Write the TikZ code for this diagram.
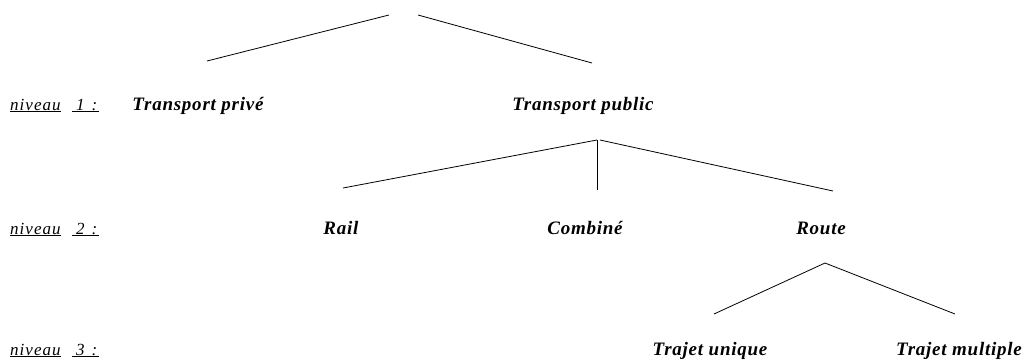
\documentclass[tikz,border=0pt]{standalone}
\usepackage{fontspec}
\setmainfont{Liberation Serif}
\newfontfamily\lblfont[LetterSpace=4]{Liberation Serif}
\newfontfamily\nivfont[LetterSpace=6]{Liberation Serif}
\begin{document}
\begin{tikzpicture}[x=1pt,y=-1pt,
  lbl/.style={anchor=base, inner sep=0pt, font=\lblfont\bfseries\itshape\fontsize{19}{21}\selectfont},
  niv/.style={anchor=base west, inner sep=0pt, font=\nivfont\itshape\fontsize{17}{19}\selectfont},
  edge/.style={line width=0.8pt}]
\useasboundingbox (0,0) rectangle (1036,362);
% labels
\node[lbl] (tpriv) at (198,110) {Transport privé};
\node[lbl] (tpub)  at (583,110) {Transport public};
\node[lbl] (rail)  at (341,234) {Rail};
\node[lbl] (comb)  at (585,234) {Combiné};
\node[lbl] (route) at (821,234) {Route};
\node[lbl] (tuni)  at (710,355) {Trajet unique};
\node[lbl] (tmul)  at (959,355) {Trajet multiple};
% level labels
\node[niv] (n1)  at (10,110) {\underline{niveau}};
\node[niv] (n1b) at (72,110) {\underline{\hspace{4pt}1\hspace{7pt}:\hspace{2pt}}};
\node[niv] (n2)  at (10,234) {\underline{niveau}};
\node[niv] (n2b) at (72,234) {\underline{\hspace{4pt}2\hspace{7pt}:\hspace{2pt}}};
\node[niv] (n3)  at (10,355) {\underline{niveau}};
\node[niv] (n3b) at (72,355) {\underline{\hspace{4pt}3\hspace{7pt}:\hspace{2pt}}};
% connector ends
\coordinate (rootL) at (389,15);
\coordinate (rootR) at (418,15);
\coordinate (tprivT) at (207,61);
\coordinate (tpubT) at (592,63);
\coordinate (tpubB) at (597,140);
\coordinate (tpubB2) at (600,140);
\coordinate (railT) at (343,188);
\coordinate (combT) at (597,190);
\coordinate (routeT) at (833,191);
\coordinate (routeB) at (825,263);
\coordinate (tuniT) at (714,314);
\coordinate (tmulT) at (955,314);
% connectors
\draw[edge] (rootL) -- (tprivT);
\draw[edge] (rootR) -- (tpubT);
\draw[edge] (tpubB) -- (railT);
\draw[edge] (tpubB) -- (combT);
\draw[edge] (tpubB2) -- (routeT);
\draw[edge] (routeB) -- (tuniT);
\draw[edge] (routeB) -- (tmulT);
\end{tikzpicture}
\end{document}
